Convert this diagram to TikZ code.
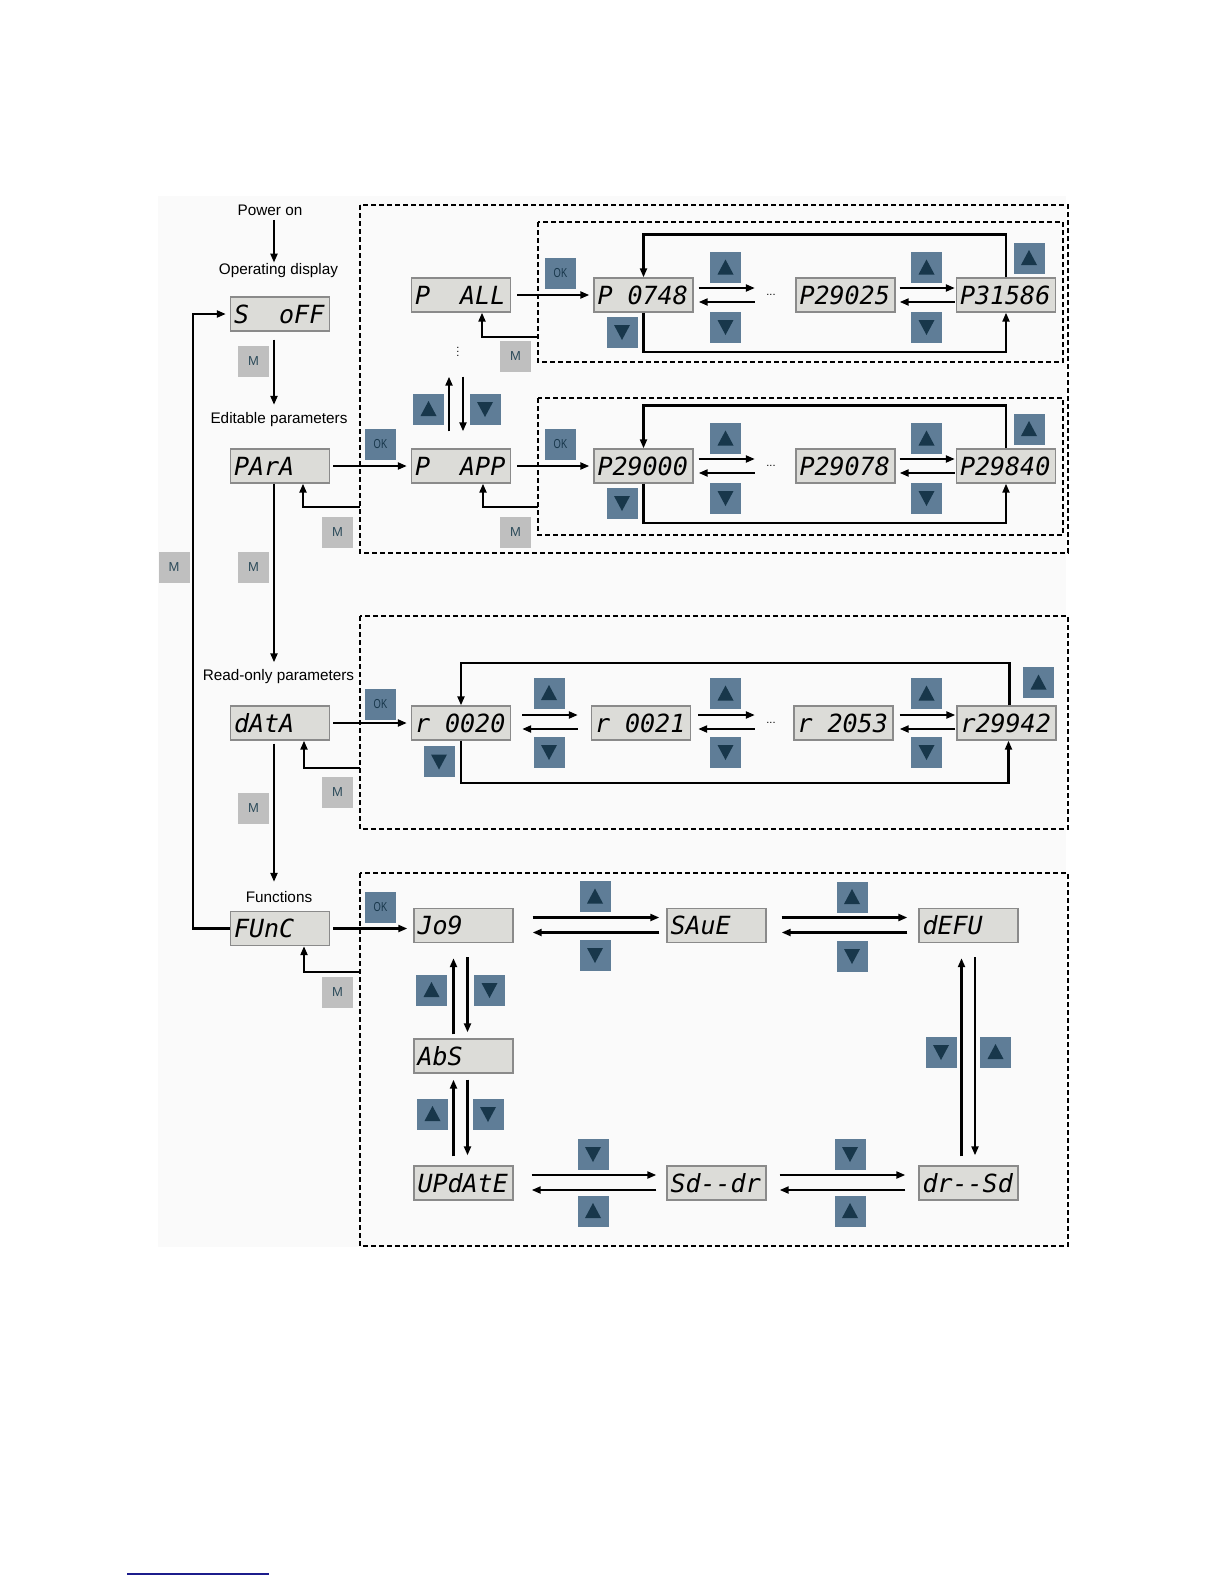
\documentclass[tikz,border=0pt]{standalone}
\usepackage{fontspec}
\setmainfont{Liberation Sans}
\newfontfamily\segfont{DejaVu Sans Mono}
\usepackage{graphicx}
\usetikzlibrary{arrows.meta}
\definecolor{btnblue}{HTML}{5F7D97}
\definecolor{tridark}{HTML}{18374B}
\definecolor{mgray}{HTML}{BFBFBF}
\definecolor{mtext}{HTML}{2C4B5A}
\definecolor{dispfill}{HTML}{DCDCD8}
\definecolor{displine}{HTML}{8A8A8A}
\definecolor{bgpage}{HTML}{FAFAFA}
\definecolor{navyline}{HTML}{1C1C8C}
\newcommand\ph{\phantom{0}}
\newcommand\dtext[1]{\makebox[92pt][l]{#1}}
\newcommand\oktxt{\scalebox{0.72}[1]{OK}}
\begin{document}
\begin{tikzpicture}[x=1pt,y=-1pt,
  disp/.style={rectangle, draw=displine, fill=dispfill, line width=1.4pt,
    minimum width=99pt, minimum height=34pt, inner sep=0pt,
    text height=18pt, text depth=0pt,
    font=\segfont\itshape\fontsize{25}{25}\selectfont},
  btn/.style={rectangle, fill=btnblue, minimum width=31pt, minimum height=31pt, inner sep=0pt},
  upbtn/.style={btn, path picture={\fill[tridark] ([shift={(-8pt,-7pt)}]path picture bounding box.center) -- ++(16pt,0pt) -- ++(-8pt,15pt) -- cycle;}},
  dnbtn/.style={btn, path picture={\fill[tridark] ([shift={(-8pt,7pt)}]path picture bounding box.center) -- ++(16pt,0pt) -- ++(-8pt,-15pt) -- cycle;}},
  okbtn/.style={btn, text=tridark, font=\fontsize{13}{13}\selectfont},
  mbtn/.style={rectangle, fill=mgray, minimum width=31pt, minimum height=31pt, inner sep=0pt,
    text=mtext, font=\fontsize{13}{13}\selectfont},
  lbl/.style={inner sep=1pt, text height=11pt, text depth=3pt, font=\fontsize{15.3}{18}\selectfont},
  dots/.style={inner sep=0pt, minimum width=32pt, font=\fontsize{11}{11}\selectfont},
  arr/.style={line width=2.1pt, -{Triangle[length=9pt,width=7pt]}},
  dbox/.style={line width=2.3pt, dash pattern=on 5pt off 3pt}
]
\useasboundingbox (0,0) rectangle (1224,1584);
\fill[bgpage] (158,196) rectangle (1066,1247);

% dashed frames
\draw[dbox] (360,205) rectangle (1068,553);
\draw[dbox] (538,222) rectangle (1063,362);
\draw[dbox] (538,398) rectangle (1063,535);
\draw[dbox] (360,616) rectangle (1068,829);
\draw[dbox] (360,873) rectangle (1068,1246);

% labels
\node[lbl] (power) at (270,211.7) {Power on};
\node[lbl] (opdisp) at (278.5,270.8) {Operating display};
\node[lbl] (editlbl) at (279,419) {Editable parameters};
\node[lbl] (rolbl) at (278.5,676.5) {Read-only parameters};
\node[lbl] (funlbl) at (279,898) {Functions};

% left column displays
\node[disp] (soff) at (280,314) {\dtext{S\ph\ph oFF}};
\node[disp] (para) at (280,466) {\dtext{PArA}};
\node[disp] (data) at (280,723) {\dtext{dAtA}};
\node[disp] (func) at (280,928.5) {\dtext{FUnC}};

% row A
\node[disp] (pall) at (461,295) {\dtext{P\ph\ph ALL}};
\node[disp] (p0748) at (643.5,295) {\dtext{P\ph 0748}};
\node[dots] (dotsA) at (771,295) {...};
\node[disp] (p29025) at (845.5,295) {\dtext{P29025}};
\node[disp] (p31586) at (1006,295) {\dtext{P31586}};
% row B
\node[disp] (papp) at (461,466) {\dtext{P\ph\ph APP}};
\node[disp] (p29000) at (643.5,466) {\dtext{P29000}};
\node[dots] (dotsB) at (771,466) {...};
\node[disp] (p29078) at (845.5,466) {\dtext{P29078}};
\node[disp] (p29840) at (1006,466) {\dtext{P29840}};
\node[inner sep=0pt, font=\fontsize{11}{11}\selectfont] (vdotsAB) at (458,349) {$\vdots$};
% row r
\node[disp] (r0020) at (461,723) {\dtext{r\ph 0020}};
\node[disp] (r0021) at (641,723) {\dtext{r\ph 0021}};
\node[dots] (dotsR) at (771,723) {...};
\node[disp] (r2053) at (843.5,723) {\dtext{r\ph 2053}};
\node[disp] (r29942) at (1006.5,723) {\dtext{r29942}};
% functions
\node[disp] (jog) at (463.5,925.5) {\dtext{Jo9}};
\node[disp] (save) at (716.5,925.5) {\dtext{SAuE}};
\node[disp] (defu) at (968.5,925.5) {\dtext{dEFU}};
\node[disp] (abs) at (463.5,1056) {\dtext{AbS}};
\node[disp] (update) at (463.5,1183) {\dtext{UPdAtE}};
\node[disp] (sddr) at (716.5,1183) {\dtext{Sd--dr}};
\node[disp] (drsd) at (968.5,1183) {\dtext{dr--Sd}};

% buttons left
\node[mbtn] (mS) at (253.5,361.5) {M};
\node[mbtn] (mP) at (253.5,567) {M};
\node[mbtn] (mLp) at (174,567) {M};
\node[mbtn] (mD) at (253.5,808) {M};
% row A buttons
\node[okbtn] (okA) at (560.5,273.5) {\oktxt};
\node[dnbtn] (dnA0) at (622,332) {};
\node[upbtn] (upA1) at (725.5,267.5) {};
\node[dnbtn] (dnA1) at (725.5,327) {};
\node[upbtn] (upA2) at (926.5,267.5) {};
\node[dnbtn] (dnA2) at (926.5,327) {};
\node[upbtn] (upA3) at (1029,258) {};
\node[mbtn] (mA) at (515.5,356.5) {M};
% between A and B
\node[upbtn] (upV) at (428.5,409) {};
\node[dnbtn] (dnV) at (485,409) {};
% row B buttons
\node[okbtn] (okL) at (380.5,444.5) {\oktxt};
\node[mbtn] (mL) at (337.5,532.5) {M};
\node[okbtn] (okB) at (560.5,444.5) {\oktxt};
\node[dnbtn] (dnB0) at (622,503) {};
\node[upbtn] (upB1) at (725.5,438.5) {};
\node[dnbtn] (dnB1) at (725.5,498) {};
\node[upbtn] (upB2) at (926.5,438.5) {};
\node[dnbtn] (dnB2) at (926.5,498) {};
\node[upbtn] (upB3) at (1029,429) {};
\node[mbtn] (mB) at (515.5,532) {M};
% row r buttons
\node[okbtn] (okR) at (380.5,704.5) {\oktxt};
\node[dnbtn] (dnR0) at (439,761.5) {};
\node[upbtn] (upR1) at (549,693) {};
\node[dnbtn] (dnR1) at (549,752) {};
\node[upbtn] (upR2) at (725.5,693.5) {};
\node[dnbtn] (dnR2) at (725.5,752) {};
\node[upbtn] (upR3) at (926.5,693.5) {};
\node[dnbtn] (dnR3) at (926.5,752) {};
\node[upbtn] (upR4) at (1038.5,682.5) {};
\node[mbtn] (mR) at (337.5,792.5) {M};
% function buttons
\node[okbtn] (okF) at (380.5,907.5) {\oktxt};
\node[mbtn] (mF) at (337.5,992.5) {M};
\node[upbtn] (upF1) at (595,896.5) {};
\node[dnbtn] (dnF1) at (595,955) {};
\node[upbtn] (upF2) at (852,897) {};
\node[dnbtn] (dnF2) at (852,956) {};
\node[upbtn] (upJ) at (431.5,990) {};
\node[dnbtn] (dnJ) at (489.5,990) {};
\node[upbtn] (upAb) at (432.5,1114) {};
\node[dnbtn] (dnAb) at (488,1114) {};
\node[dnbtn] (dnU1) at (593,1154) {};
\node[upbtn] (upU1) at (593,1211) {};
\node[dnbtn] (dnU2) at (850,1154) {};
\node[upbtn] (upU2) at (850,1211) {};
\node[dnbtn] (dnD) at (941,1052) {};
\node[upbtn] (upD) at (995.5,1052) {};

% helper coordinates
\coordinate (vl) at (274,0);
\coordinate (lc) at (193,0);
\coordinate (rA) at (538,337);
\coordinate (rP) at (360,507);
\coordinate (rB) at (538,507);
\coordinate (rR) at (360,768);
\coordinate (rF) at (360,972);
\coordinate (tA) at (0,234.5);
\coordinate (bA) at (0,352);
\coordinate (tB) at (0,405.5);
\coordinate (bB) at (0,523);
\coordinate (tR) at (0,663);
\coordinate (bR) at (0,783);

% main vertical flow
\draw[arr] (power.south -| vl) -- (opdisp.north -| vl);
\draw[arr, shorten <=8pt, shorten >=6pt] (soff.south -| vl) -- (editlbl.north -| vl);
\draw[arr, shorten >=6pt] (para.south -| vl) -- (rolbl.north -| vl);
\draw[arr, shorten <=3pt, shorten >=8pt] (data.south -| vl) -- (funlbl.north -| vl);
\draw[arr, shorten >=4pt] (func.west) -- (func.west -| lc) -- (soff.west -| lc) -- (soff.west);

% entry arrows
\draw[arr, shorten <=3pt, shorten >=4pt] (para.east) -- (papp.west);
\draw[arr, shorten <=6pt, shorten >=4pt] (pall.east) -- (p0748.west);
\draw[arr, shorten <=6pt, shorten >=4pt] (papp.east) -- (p29000.west);
\draw[arr, shorten <=3pt, shorten >=4pt] (data.east) -- (r0020.west);
\draw[arr, shorten <=3pt, shorten >=6pt] (func.east) -- ([yshift=-3pt]jog.west);

% M returns
\draw[arr] (rA) -| ([xshift=21pt]pall.south);
\draw[arr] (rP) -| ([xshift=23pt]para.south);
\draw[arr] (rB) -| ([xshift=22pt]papp.south);
\draw[arr] (rR) -| ([xshift=24pt]data.south);
\draw[arr] (rF) -| ([xshift=24pt]func.south);

% P ALL / P APP
\draw[arr, shorten <=17pt, shorten >=64pt] ([xshift=-12pt]papp.north) -- ([xshift=-12pt]pall.south);
\draw[arr, shorten <=64pt, shorten >=17pt] ([xshift=2pt]pall.south) -- ([xshift=2pt]papp.north);

% row A loops and steps
\draw[arr] (p31586.north) -- (p31586.north |- tA) -- (p0748.north |- tA) -- (p0748.north);
\draw[arr] (p0748.south) -- (p0748.south |- bA) -- (p31586.south |- bA) -- (p31586.south);
\draw[arr, shorten <=5pt] ([yshift=7pt]p0748.east) -- ([yshift=7pt]dotsA.west);
\draw[arr, shorten >=5pt] ([yshift=-7pt]dotsA.west) -- ([yshift=-7pt]p0748.east);
\draw[arr, shorten <=4pt, shorten >=1pt] ([yshift=7pt]p29025.east) -- ([yshift=7pt]p31586.west);
\draw[arr, shorten <=1pt, shorten >=4pt] ([yshift=-7pt]p31586.west) -- ([yshift=-7pt]p29025.east);

% row B loops and steps
\draw[arr] (p29840.north) -- (p29840.north |- tB) -- (p29000.north |- tB) -- (p29000.north);
\draw[arr] (p29000.south) -- (p29000.south |- bB) -- (p29840.south |- bB) -- (p29840.south);
\draw[arr, shorten <=5pt] ([yshift=7pt]p29000.east) -- ([yshift=7pt]dotsB.west);
\draw[arr, shorten >=5pt] ([yshift=-7pt]dotsB.west) -- ([yshift=-7pt]p29000.east);
\draw[arr, shorten <=4pt, shorten >=1pt] ([yshift=7pt]p29078.east) -- ([yshift=7pt]p29840.west);
\draw[arr, shorten <=1pt, shorten >=4pt] ([yshift=-7pt]p29840.west) -- ([yshift=-7pt]p29078.east);

% row r loops and steps
\draw[arr] ([xshift=3pt]r29942.north) -- ([xshift=3pt]r29942.north |- tR) -- (r0020.north |- tR) -- (r0020.north);
\draw[arr] (r0020.south) -- (r0020.south |- bR) -- ([xshift=2pt]r29942.south |- bR) -- ([xshift=2pt]r29942.south);
\draw[arr, shorten <=11pt, shorten >=13pt] ([yshift=8pt]r0020.east) -- ([yshift=8pt]r0021.west);
\draw[arr, shorten <=13pt, shorten >=11pt] ([yshift=-6pt]r0021.west) -- ([yshift=-6pt]r0020.east);
\draw[arr, shorten <=7pt] ([yshift=8pt]r0021.east) -- ([yshift=8pt]dotsR.west);
\draw[arr, shorten >=7pt] ([yshift=-6pt]dotsR.west) -- ([yshift=-6pt]r0021.east);
\draw[arr, shorten <=6pt, shorten >=1pt] ([yshift=8pt]r2053.east) -- ([yshift=8pt]r29942.west);
\draw[arr, shorten <=1pt, shorten >=6pt] ([yshift=-6pt]r29942.west) -- ([yshift=-6pt]r2053.east);

% function ring
\draw[arr, shorten <=19pt, shorten >=7pt] ([yshift=8pt]jog.east) -- ([yshift=8pt]save.west);
\draw[arr, shorten <=7pt, shorten >=19pt] ([yshift=-7pt]save.west) -- ([yshift=-7pt]jog.east);
\draw[arr, shorten <=15pt, shorten >=11pt] ([yshift=8pt]save.east) -- ([yshift=8pt]defu.west);
\draw[arr, shorten <=11pt, shorten >=15pt] ([yshift=-7pt]defu.west) -- ([yshift=-7pt]save.east);
\draw[arr, shorten <=4pt, shorten >=15pt] ([xshift=-10pt]abs.north) -- ([xshift=-10pt]jog.south);
\draw[arr, shorten <=14pt, shorten >=6pt] ([xshift=4pt]jog.south) -- ([xshift=4pt]abs.north);
\draw[arr, shorten <=9pt, shorten >=6pt] ([xshift=-10pt]update.north) -- ([xshift=-10pt]abs.south);
\draw[arr, shorten <=6pt, shorten >=10pt] ([xshift=4pt]abs.south) -- ([xshift=4pt]update.north);
\draw[arr, shorten <=18pt, shorten >=10pt] ([yshift=8pt]update.east) -- ([yshift=8pt]sddr.west);
\draw[arr, shorten <=10pt, shorten >=18pt] ([yshift=-7pt]sddr.west) -- ([yshift=-7pt]update.east);
\draw[arr, shorten <=13pt, shorten >=13pt] ([yshift=8pt]sddr.east) -- ([yshift=8pt]drsd.west);
\draw[arr, shorten <=13pt, shorten >=13pt] ([yshift=-7pt]drsd.west) -- ([yshift=-7pt]sddr.east);
\draw[arr, shorten <=9pt, shorten >=15pt] ([xshift=-7pt]drsd.north) -- ([xshift=-7pt]defu.south);
\draw[arr, shorten <=14pt, shorten >=10pt] ([xshift=6.5pt]defu.south) -- ([xshift=6.5pt]drsd.north);

% footnote rule
\draw[navyline, line width=1.5pt] (127,1574) -- (269,1574);
\end{tikzpicture}
\end{document}
